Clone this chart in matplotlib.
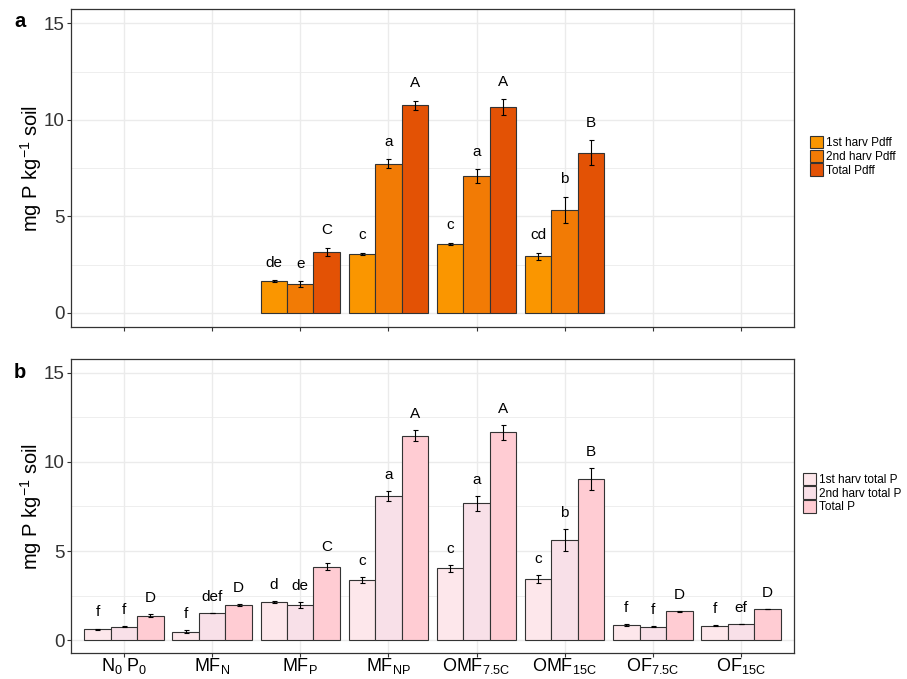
import matplotlib.pyplot as plt
import numpy as np
from matplotlib.patches import Patch

plt.rcParams.update({
    "font.family": "Liberation Sans",
    "mathtext.fontset": "custom",
    "mathtext.rm": "Liberation Sans",
    "mathtext.it": "Liberation Sans:italic",
    "mathtext.bf": "Liberation Sans:bold",
})

nan = np.nan
treatments = [r"N$_0$ P$_0$", r"MF$_\mathrm{N}$", r"MF$_\mathrm{P}$", r"MF$_\mathrm{NP}$",
              r"OMF$_\mathrm{7.5C}$", r"OMF$_\mathrm{15C}$", r"OF$_\mathrm{7.5C}$", r"OF$_\mathrm{15C}$"]

# panel a: P derived from fertiliser
pdff_1st = [nan, nan, 1.65, 3.05, 3.58, 2.92, nan, nan]
pdff_2nd = [nan, nan, 1.49, 7.72, 7.07, 5.34, nan, nan]
pdff_tot = [nan, nan, 3.15, 10.76, 10.65, 8.29, nan, nan]
pdff_1st_se = [0, 0, 0.05, 0.07, 0.05, 0.19, 0, 0]
pdff_2nd_se = [0, 0, 0.14, 0.24, 0.36, 0.67, 0, 0]
pdff_tot_se = [0, 0, 0.22, 0.23, 0.41, 0.64, 0, 0]
pdff_1st_lab = ["", "", "de", "c", "c", "cd", "", ""]
pdff_2nd_lab = ["", "", "e", "a", "a", "b", "", ""]
pdff_tot_lab = ["", "", "C", "A", "A", "B", "", ""]

# panel b: total P uptake
tp_1st = [0.60, 0.47, 2.15, 3.37, 4.02, 3.43, 0.84, 0.80]
tp_2nd = [0.75, 1.52, 1.98, 8.07, 7.67, 5.62, 0.75, 0.92]
tp_tot = [1.37, 1.98, 4.13, 11.48, 11.66, 9.04, 1.61, 1.74]
tp_1st_se = [0.05, 0.08, 0.05, 0.19, 0.17, 0.23, 0.04, 0.03]
tp_2nd_se = [0.03, 0.0, 0.16, 0.28, 0.41, 0.61, 0.03, 0.0]
tp_tot_se = [0.07, 0.06, 0.22, 0.30, 0.43, 0.62, 0.04, 0.0]
tp_1st_lab = ["f", "f", "d", "c", "c", "c", "f", "f"]
tp_2nd_lab = ["f", "def", "de", "a", "a", "b", "f", "ef"]
tp_tot_lab = ["D", "D", "C", "A", "A", "B", "D", "D"]

COLORS_A = ["#FA9600", "#F27B05", "#E35205"]
COLORS_B = ["#FDE7EB", "#F8E0E8", "#FFCCD3"]
EDGE = "#333333"
GRID = "#EBEBEB"

fig = plt.figure(figsize=(9.07, 6.79), dpi=100)
ax_a = fig.add_axes([0.0783, 0.518, 0.797, 0.469])
ax_b = fig.add_axes([0.0783, 0.0376, 0.797, 0.433])

x = np.arange(1, len(treatments) + 1)
w = 0.3


def draw_panel(ax, series, errs, labs, colors, names):
    for k, (vals, se, lab) in enumerate(zip(series, errs, labs)):
        xpos = x + (k - 1) * w
        vals = np.array(vals, dtype=float)
        se = np.array(se, dtype=float)
        ax.bar(xpos, vals, width=w, color=colors[k], edgecolor=EDGE, linewidth=0.8,
               zorder=3, label=names[k])
        ok = ~np.isnan(vals)
        ax.errorbar(xpos[ok], vals[ok], yerr=se[ok], fmt="none", ecolor="black",
                    elinewidth=0.8, capsize=1.8, capthick=0.8, zorder=4)
        for xi, v, s, t in zip(xpos, vals, se, lab):
            if t and not np.isnan(v):
                ax.text(xi, v + s + 0.9, t, ha="center", va="center", fontsize=11, zorder=5)
    ax.set_xlim(0.4, 8.6)
    ax.set_ylim(-0.75, 15.75)
    ax.set_yticks([0, 5, 10, 15])
    ax.set_yticks([2.5, 7.5, 12.5], minor=True)
    ax.set_xticks(x)
    ax.grid(True, which="major", color=GRID, linewidth=1.0, zorder=0)
    ax.grid(True, which="minor", axis="y", color=GRID, linewidth=0.6, zorder=0)
    ax.tick_params(axis="y", which="minor", length=0)
    ax.tick_params(axis="both", which="major", length=3, color=EDGE, width=0.8,
                   labelsize=13.5, labelcolor="#333333", pad=1.5)
    ax.tick_params(axis="x", labelsize=13, labelcolor="black", pad=-1)
    for sp in ax.spines.values():
        sp.set_color(EDGE)
        sp.set_linewidth(0.9)
    ax.set_ylabel(r"mg P kg$^{-1}$ soil", fontsize=14.5)
    ax.yaxis.set_label_coords(-0.038, 0.5)


draw_panel(ax_a, [pdff_1st, pdff_2nd, pdff_tot], [pdff_1st_se, pdff_2nd_se, pdff_tot_se],
           [pdff_1st_lab, pdff_2nd_lab, pdff_tot_lab], COLORS_A,
           ["1st harv Pdff", "2nd harv Pdff", "Total Pdff"])
ax_a.set_xticklabels([])

draw_panel(ax_b, [tp_1st, tp_2nd, tp_tot], [tp_1st_se, tp_2nd_se, tp_tot_se],
           [tp_1st_lab, tp_2nd_lab, tp_tot_lab], COLORS_B,
           ["1st harv total P", "2nd harv total P", "Total P"])
ax_b.set_xticklabels(treatments)

fig.text(0.0154, 0.969, "a", fontsize=14.5, fontweight="bold", va="center")
fig.text(0.0154, 0.452, "b", fontsize=14.5, fontweight="bold", va="center")

for names, colors, ypos, xpos in [
        (["1st harv Pdff", "2nd harv Pdff", "Total Pdff"], COLORS_A, 0.770, 0.893),
        (["1st harv total P", "2nd harv total P", "Total P"], COLORS_B, 0.274, 0.885)]:
    handles = [Patch(facecolor=c, edgecolor=EDGE, linewidth=0.8) for c in colors]
    fig.legend(handles, names, loc="center left", bbox_to_anchor=(xpos, ypos),
               frameon=False, fontsize=8.5, handlelength=1.1, handleheight=1.25,
               labelspacing=0.05, handletextpad=0.3, borderpad=0, borderaxespad=0)

fig.savefig("out.png", dpi=100)
